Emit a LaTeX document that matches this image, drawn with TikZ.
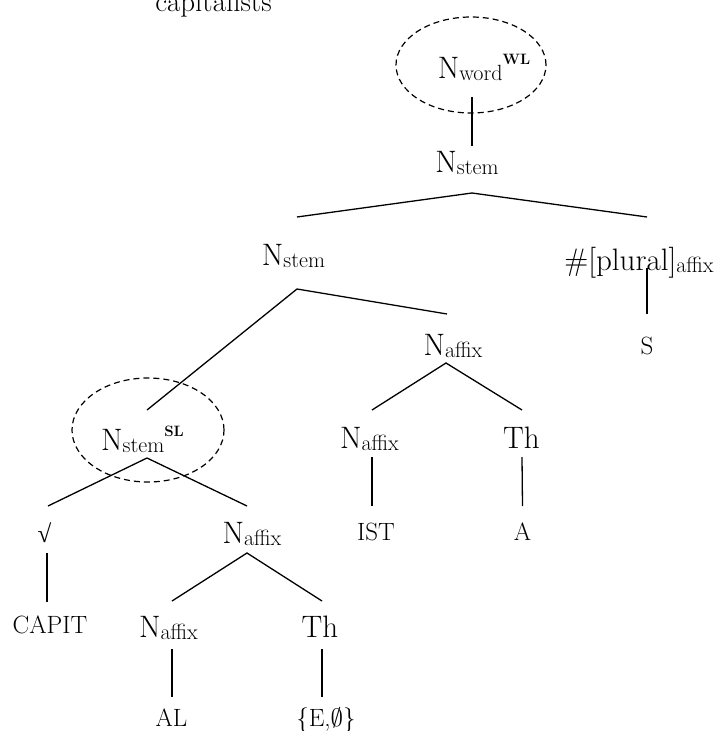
\RequirePackage{fix-cm}
\documentclass[tikz,border=0pt]{standalone}
\usepackage{fontspec}
\newfontfamily\symf{Liberation Serif}
\newcommand\Nsub[2]{#1\raisebox{-2pt}{\fontsize{22}{24}\selectfont #2}}
\newcommand\Sup[1]{\raisebox{14pt}{\fontsize{15}{16}\selectfont\bfseries #1}}
\begin{document}
\begin{tikzpicture}[x=1pt,y=-1pt,
  lab/.style={inner sep=0pt, anchor=base, font=\fontsize{31}{36}\selectfont},
  lex/.style={inner sep=0pt, anchor=base, font=\fontsize{25}{28}\selectfont},
  br/.style={line width=1.3pt},
  ring/.style={dash pattern=on 6pt off 4pt, line width=1.2pt}]
\useasboundingbox (0,0) rectangle (715,731);
% nodes
\node[lab] (cap) at (213.5,11) {\fontsize{29}{30}\selectfont capitalists};
\node[lab] (nword) at (484,78) {\Nsub{N}{word}\Sup{WL}};
\node[lab] (nstem0) at (467,172) {\Nsub{N}{stem}};
\node[lab] (nstem1) at (293.5,265) {\Nsub{N}{stem}};
\node[lab] (plural) at (639,270) {\Nsub{\#[plural]}{affix}};
\node[lex] (s) at (647,354) {S};
\node[lab] (naffix1) at (453,355) {\Nsub{N}{affix}};
\node[lab] (naffix2) at (369.5,448) {\Nsub{N}{affix}};
\node[lab] (th1) at (521.5,448) {Th};
\node[lex] (ist) at (376,540) {IST};
\node[lex] (a) at (522.5,540) {A};
\node[lab] (nsl) at (142.5,450) {\Nsub{N}{stem}\Sup{SL}};
\node[lex] (root) at (44.5,542) {\symf √};
\node[lab] (naffix3) at (252,543) {\Nsub{N}{affix}};
\node[lex] (capit) at (50,633) {CAPIT};
\node[lab] (naffix4) at (168.5,637) {\Nsub{N}{affix}};
\node[lab] (th2) at (320,637) {Th};
\node[lex] (al) at (171.5,726) {AL};
\node[lex] (eo) at (326,726) {\{E,$\emptyset$\}};
% rings
\draw[ring] ([shift={(-13,-13)}]nword.base) ellipse [x radius=75pt, y radius=48pt];
\draw[ring] ([shift={(5.5,-20)}]nsl.base) ellipse [x radius=76pt, y radius=52pt];
% branches
\draw[br] ([shift={(-12,19)}]nword.base) -- ([shift={(5,-26)}]nstem0.base);
\draw[br] ([shift={(3.5,-48)}]nstem1.base) -- ([shift={(5,21)}]nstem0.base) -- ([shift={(8,-53)}]plural.base);
\draw[br] ([shift={(8,-2)}]plural.base) -- ([shift={(0,-40)}]s.base);
\draw[br] ([shift={(4.5,-40)}]nsl.base) -- ([shift={(3.5,24)}]nstem1.base) -- ([shift={(-6,-41)}]naffix1.base);
\draw[br] ([shift={(2.5,-38)}]naffix2.base) -- ([shift={(-7,8)}]naffix1.base) -- ([shift={(0.5,-38)}]th1.base);
\draw[br] ([shift={(2.5,9)}]naffix2.base) -- ([shift={(-4,-34)}]ist.base);
\draw[br] ([shift={(0.5,9)}]th1.base) -- ([shift={(0,-34)}]a.base);
\draw[br] ([shift={(3.5,-36)}]root.base) -- ([shift={(4.5,8)}]nsl.base) -- ([shift={(-5,-37)}]naffix3.base);
\draw[br] ([shift={(2.5,11)}]root.base) -- ([shift={(-3,-31)}]capit.base);
\draw[br] ([shift={(3.5,-36)}]naffix4.base) -- ([shift={(-5,10)}]naffix3.base) -- ([shift={(2,-36)}]th2.base);
\draw[br] ([shift={(3.5,12)}]naffix4.base) -- ([shift={(0.5,-29)}]al.base);
\draw[br] ([shift={(2,12)}]th2.base) -- ([shift={(-4,-29)}]eo.base);
\end{tikzpicture}
\end{document}
